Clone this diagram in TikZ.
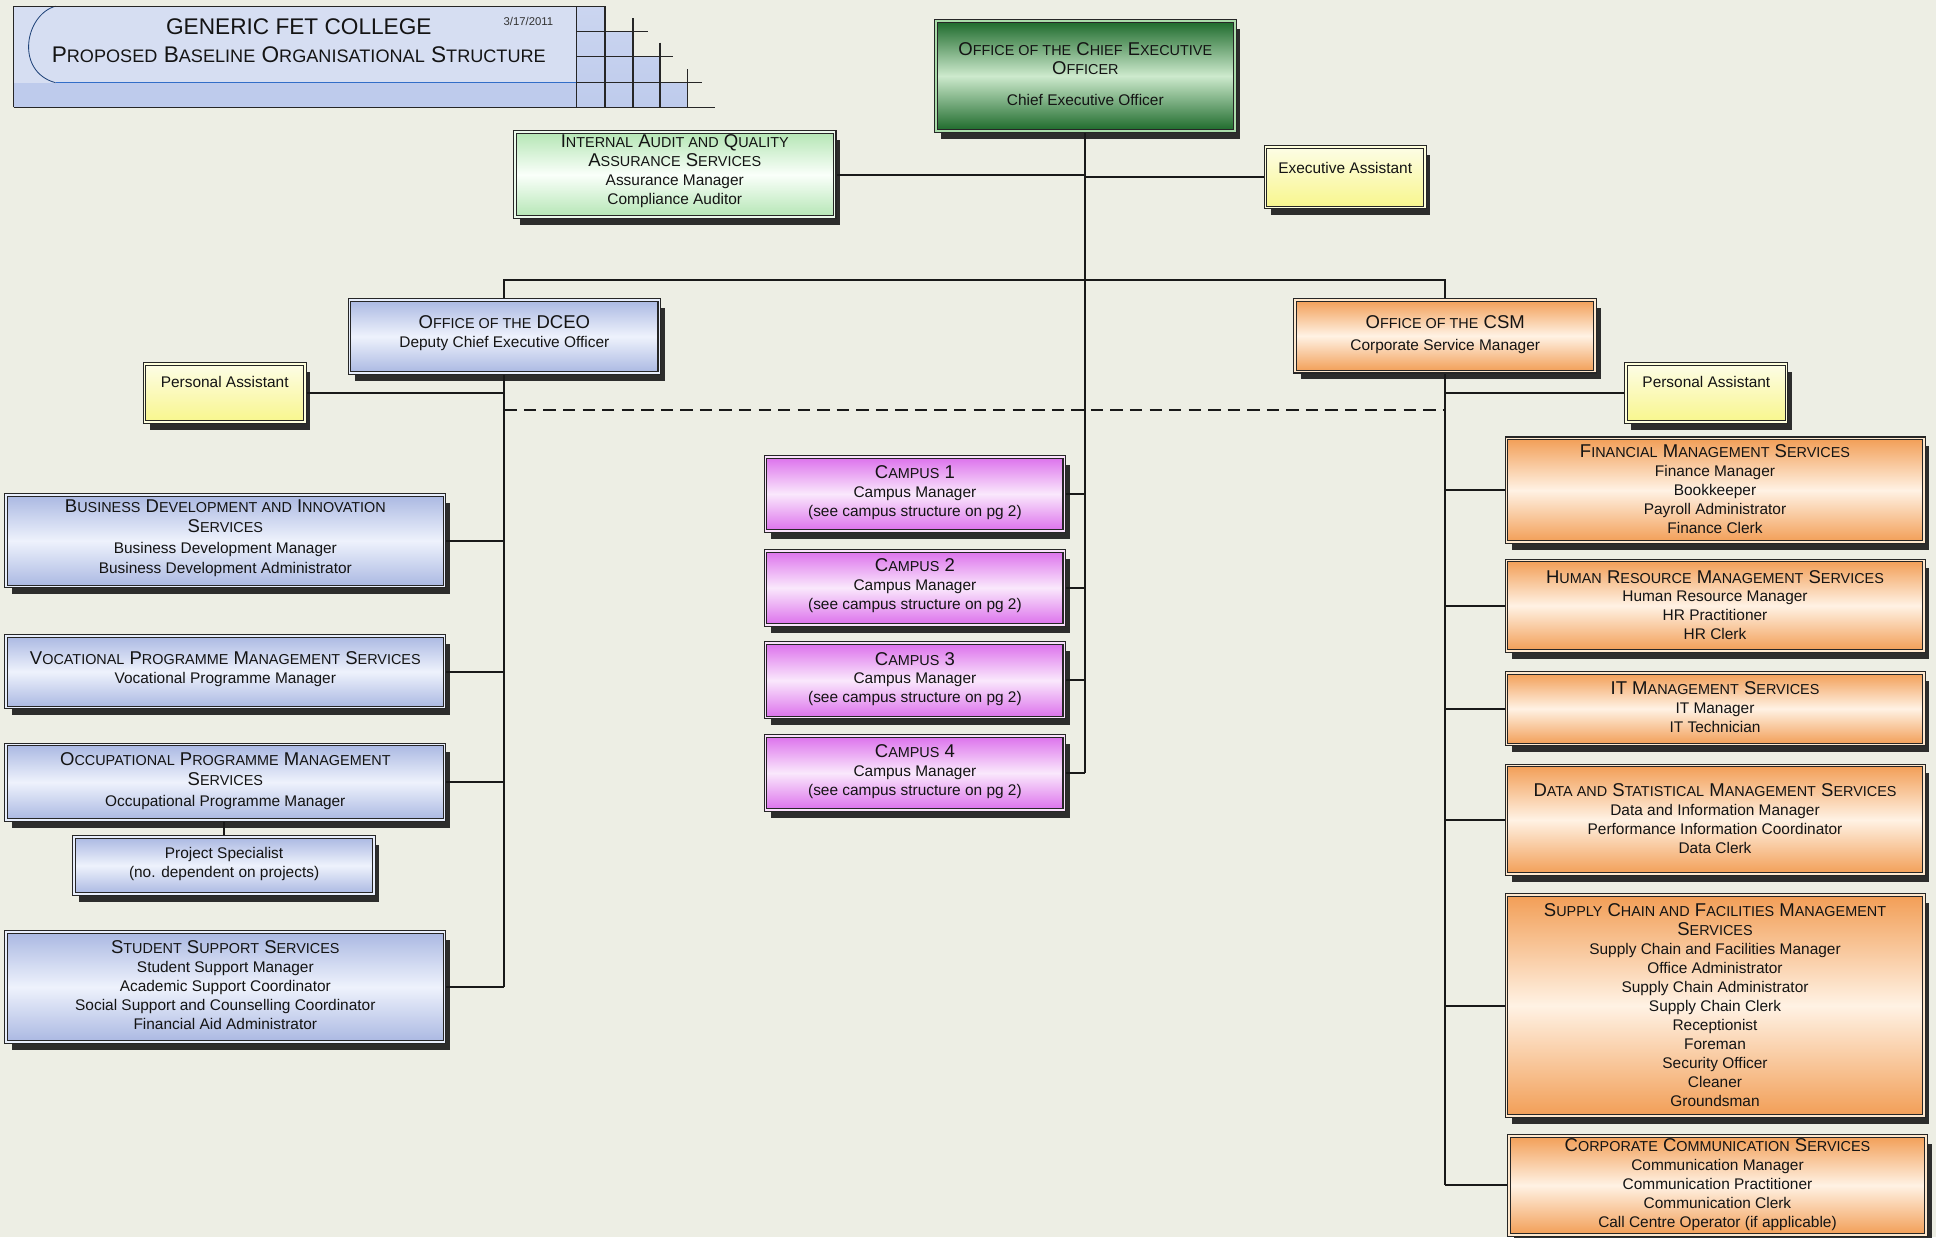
\documentclass[tikz,border=0pt]{standalone}
\usepackage{fontspec}
\setmainfont{Liberation Sans}
\usetikzlibrary{shadows,fit,calc,backgrounds}
\definecolor{bg}{RGB}{237,238,228}
\definecolor{blueA}{RGB}{170,184,226}
\definecolor{blueB}{RGB}{238,242,252}
\definecolor{blueD}{RGB}{232,238,252}
\definecolor{orA}{RGB}{242,158,86}
\definecolor{orB}{RGB}{255,242,228}
\definecolor{orD}{RGB}{255,232,205}
\definecolor{pkA}{RGB}{220,112,236}
\definecolor{pkB}{RGB}{250,232,252}
\definecolor{pkD}{RGB}{250,225,252}
\definecolor{grA}{RGB}{28,105,42}
\definecolor{grB}{RGB}{205,234,205}
\definecolor{grD}{RGB}{170,220,170}
\definecolor{lgA}{RGB}{180,230,180}
\definecolor{lgB}{RGB}{250,255,250}
\definecolor{lgD}{RGB}{235,250,235}
\definecolor{yeA}{RGB}{253,253,230}
\definecolor{yeB}{RGB}{248,246,140}
\definecolor{yeD}{RGB}{255,255,220}
\definecolor{hdA}{RGB}{214,222,242}
\definecolor{hdB}{RGB}{190,203,236}
\definecolor{hdL}{RGB}{50,110,200}
\newcommand{\hc}[1]{{\fontsize{7}{9.2}\selectfont #1}}
\newcommand{\hd}[1]{{\fontsize{9}{9.2}\selectfont #1}}
\newcommand{\tsc}[1]{{\fontsize{8.8}{12}\selectfont #1}}
\pgfdeclarelayer{back}
\pgfsetlayers{back,background,main}
\begin{document}
\begin{tikzpicture}[x=0.6pt,y=-0.6pt,
  conn/.style={draw=black!90, line width=1pt},
  dashline/.style={draw=black!90, line width=1pt, dash pattern=on 6pt off 3.5pt},
  boxbase/.style={draw=black!85, line width=0.5pt, double distance=0.8pt, inner sep=0pt, outer sep=0pt,
    drop shadow={shadow xshift=2.6pt,shadow yshift=-3.8pt,fill=black!90,opacity=0.9}},
  bluebox/.style={boxbase, double=blueD, top color=blueA, bottom color=blueA, middle color=blueB},
  orbox/.style={boxbase, double=orD, top color=orA, bottom color=orA, middle color=orB},
  pkbox/.style={boxbase, double=pkD, top color=pkA, bottom color=pkA, middle color=pkB},
  ceobox/.style={boxbase, double=grD, top color=grA, bottom color=grA, middle color=grB},
  lgbox/.style={boxbase, double=lgD, top color=lgA, bottom color=lgA, middle color=lgB},
  yebox/.style={boxbase, double=yeD, top color=yeA, bottom color=yeB},
  txt/.style={align=center, inner sep=0pt, text=black!92, font=\fontsize{7.5}{9.2}\selectfont}]
\useasboundingbox (0,0) rectangle (1568,1002);
\begin{pgfonlayer}{back}
\fill[bg] (0,0) rectangle (1568,1002);
\end{pgfonlayer}

% ---------- header ----------
\fill[hdA] (11,5) rectangle (467,87);
\fill[hdB] (11,67) rectangle (467,87);
\fill[top color=hdB!80!white, bottom color=hdB] (467,5) -- (490,5) -- (490,25.6) -- (512.6,25.6) -- (512.6,46) -- (534.6,46) -- (534.6,66.7) -- (556.5,66.7) -- (556.5,87) -- (467,87) -- cycle;
\draw[hdL!60!black, line width=0.4pt] (45,5) .. controls (20,12) and (12,58) .. (45,67);
\draw[hdL, line width=0.6pt] (45,67) -- (467,67);
\draw[black!85, line width=0.6pt] (11,87) -- (11,5) -- (490,5) -- (490,87);
\draw[black!85, line width=0.6pt] (11,87.2) -- (579,87.2);
\draw[black!85, line width=0.6pt] (467,25.6) -- (525,25.6) (467,46) -- (545,46) (467,66.7) -- (568.5,66.7);
\draw[black!85, line width=0.6pt] (467,5) -- (467,87) (512.6,14.8) -- (512.6,87) (534.6,34.6) -- (534.6,87) (556.5,56) -- (556.5,87);
\node[inner sep=0pt, text=black!92, font=\fontsize{11}{13}\selectfont] (title) at (242,22) {GENERIC FET COLLEGE};
\node[inner sep=0pt, text=black!92, font=\fontsize{11}{13}\selectfont] (subtitle) at (242,44) {P\tsc{ROPOSED} B\tsc{ASELINE} O\tsc{RGANISATIONAL} S\tsc{TRUCTURE}};
\node[inner sep=0pt, text=black!80, font=\fontsize{5.5}{6}\selectfont] (date) at (428,17) {3/17/2011};

% ---------- top level ----------
\node[ceobox, fit={(758,17) (1000,106)}] (ceo) {};
\node[txt] (ceo-t) at (879,60) {\hd{O\hc{FFICE OF THE} C\hc{HIEF} E\hc{XECUTIVE}}\\\hd{O\hc{FFICER}}\\[6pt]Chief Executive Officer};
\node[lgbox, fit={(417,107) (676,176)}] (audit) {};
\node[txt] (audit-t) at (546.5,138.5) {\hd{I\hc{NTERNAL} A\hc{UDIT AND} Q\hc{UALITY}}\\\hd{A\hc{SSURANCE} S\hc{ERVICES}}\\Assurance Manager\\Compliance Auditor};
\node[yebox, fit={(1025,119) (1154,168)}] (ea) {};
\node[txt] (ea-t) at (1089.5,136) {Executive Assistant};

\node[bluebox, fit={(283,243) (534,302)}] (dceo) {};
\node[txt] (dceo-t) at (408.5,270) {\hd{O\hc{FFICE OF THE} DCEO}\\Deputy Chief Executive Officer};
\node[orbox, fit={(1049,243) (1292,301)}] (csm) {};
\node[txt, font=\fontsize{7.5}{10.6}\selectfont] (csm-t) at (1170.5,271) {\hd{O\hc{FFICE OF THE} CSM}\\Corporate Service Manager};
\node[yebox, fit={(117,295) (247,342)}] (pal) {};
\node[txt] (pal-t) at (182,309) {Personal Assistant};
\node[yebox, fit={(1317,295) (1447,342)}] (par) {};
\node[txt] (par-t) at (1382,309) {Personal Assistant};

% ---------- left column ----------
\node[bluebox, fit={(5,401) (360,475)}] (bdi) {};
\node[txt, font=\fontsize{7.5}{10}\selectfont] (bdi-t) at (182.5,436) {\hd{B\hc{USINESS} D\hc{EVELOPMENT AND} I\hc{NNOVATION}}\\\hd{S\hc{ERVICES}}\\Business Development Manager\\Business Development Administrator};
\node[bluebox, fit={(5,515) (360,573)}] (vpm) {};
\node[txt] (vpm-t) at (182.5,542) {\hd{V\hc{OCATIONAL} P\hc{ROGRAMME} M\hc{ANAGEMENT} S\hc{ERVICES}}\\Vocational Programme Manager};
\node[bluebox, fit={(5,603) (360,664)}] (opm) {};
\node[txt, font=\fontsize{7.5}{10}\selectfont] (opm-t) at (182.5,632.5) {\hd{O\hc{CCUPATIONAL} P\hc{ROGRAMME} M\hc{ANAGEMENT}}\\\hd{S\hc{ERVICES}}\\Occupational Programme Manager};
\node[bluebox, fit={(60,678) (303,724)}] (ps) {};
\node[txt] (ps-t) at (181.5,700) {Project Specialist\\(no. dependent on projects)};
\node[bluebox, fit={(5,755) (360,844)}] (sss) {};
\node[txt] (sss-t) at (182.5,798) {\hd{S\hc{TUDENT} S\hc{UPPORT} S\hc{ERVICES}}\\Student Support Manager\\Academic Support Coordinator\\Social Support and Counselling Coordinator\\Financial Aid Administrator};

% ---------- campuses ----------
\node[pkbox, fit={(620,370) (862,430)}] (c1) {};
\node[txt] (c1-t) at (741,399) {\hd{C\hc{AMPUS} 1}\\Campus Manager\\(see campus structure on pg 2)};
\node[pkbox, fit={(620,446) (862,506)}] (c2) {};
\node[txt] (c2-t) at (741,474.5) {\hd{C\hc{AMPUS} 2}\\Campus Manager\\(see campus structure on pg 2)};
\node[pkbox, fit={(620,521) (862,581)}] (c3) {};
\node[txt] (c3-t) at (741,550) {\hd{C\hc{AMPUS} 3}\\Campus Manager\\(see campus structure on pg 2)};
\node[pkbox, fit={(620,596) (862,656)}] (c4) {};
\node[txt] (c4-t) at (741,625) {\hd{C\hc{AMPUS} 4}\\Campus Manager\\(see campus structure on pg 2)};

% ---------- right column ----------
\node[orbox, fit={(1220,355) (1558,439)}] (fms) {};
\node[txt] (fms-t) at (1389,396) {\hd{F\hc{INANCIAL} M\hc{ANAGEMENT} S\hc{ERVICES}}\\Finance Manager\\Bookkeeper\\Payroll Administrator\\Finance Clerk};
\node[orbox, fit={(1220,454) (1558,527)}] (hrm) {};
\node[txt] (hrm-t) at (1389,490) {\hd{H\hc{UMAN} R\hc{ESOURCE} M\hc{ANAGEMENT} S\hc{ERVICES}}\\Human Resource Manager\\HR Practitioner\\HR Clerk};
\node[orbox, fit={(1220,545) (1558,603)}] (itm) {};
\node[txt] (itm-t) at (1389,573) {\hd{IT M\hc{ANAGEMENT} S\hc{ERVICES}}\\IT Manager\\IT Technician};
\node[orbox, fit={(1220,620) (1558,708)}] (dsm) {};
\node[txt] (dsm-t) at (1389,663) {\hd{D\hc{ATA AND} S\hc{TATISTICAL} M\hc{ANAGEMENT} S\hc{ERVICES}}\\Data and Information Manager\\Performance Information Coordinator\\Data Clerk};
\node[orbox, fit={(1220,725) (1558,904)}] (scf) {};
\node[txt] (scf-t) at (1389,814) {\hd{S\hc{UPPLY} C\hc{HAIN AND} F\hc{ACILITIES} M\hc{ANAGEMENT}}\\\hd{S\hc{ERVICES}}\\Supply Chain and Facilities Manager\\Office Administrator\\Supply Chain Administrator\\Supply Chain Clerk\\Receptionist\\Foreman\\Security Officer\\Cleaner\\Groundsman};
\node[orbox, fit={(1222,920) (1560,1000)}] (ccs) {};
\node[txt] (ccs-t) at (1391,959.5) {\hd{C\hc{ORPORATE} C\hc{OMMUNICATION} S\hc{ERVICES}}\\Communication Manager\\Communication Practitioner\\Communication Clerk\\Call Centre Operator (if applicable)};

% ---------- connectors ----------
\begin{pgfonlayer}{background}
\draw[conn] (ceo.south) -- (ceo.south |- c4.east);
\draw[conn] (audit.east) -- (audit.east -| ceo.south);
\draw[conn] (ea.west) -- (ea.west -| ceo.south);
\draw[conn] (dceo.north) -- ++(0,-16) -| (csm.north);
\draw[conn] (dceo.south) -- (dceo.south |- sss.east);
\draw[conn] (pal.east) -- (pal.east -| dceo.south);
\coordinate (dl) at ($(dceo.south)+(0,30)$);
\coordinate (dr) at (dl -| csm.south);
\draw[dashline] (dl) -- (dr);
\draw[conn] (bdi.east) -- (bdi.east -| dceo.south);
\draw[conn] (vpm.east) -- (vpm.east -| dceo.south);
\draw[conn] (opm.east) -- (opm.east -| dceo.south);
\draw[conn] (sss.east) -- (sss.east -| dceo.south);
\draw[conn] (ps.north |- opm.south) -- (ps.north);
\draw[conn] (c1.east) -- (c1.east -| ceo.south);
\draw[conn] (c2.east) -- (c2.east -| ceo.south);
\draw[conn] (c3.east) -- (c3.east -| ceo.south);
\draw[conn] (c4.east) -- (c4.east -| ceo.south);
\draw[conn] (csm.south) -- (csm.south |- ccs.west);
\draw[conn] (par.west) -- (par.west -| csm.south);
\draw[conn] (fms.west) -- (fms.west -| csm.south);
\draw[conn] (hrm.west) -- (hrm.west -| csm.south);
\draw[conn] (itm.west) -- (itm.west -| csm.south);
\draw[conn] (dsm.west) -- (dsm.west -| csm.south);
\draw[conn] (scf.west) -- (scf.west -| csm.south);
\draw[conn] (ccs.west) -- (ccs.west -| csm.south);
\end{pgfonlayer}
\end{tikzpicture}
\end{document}
